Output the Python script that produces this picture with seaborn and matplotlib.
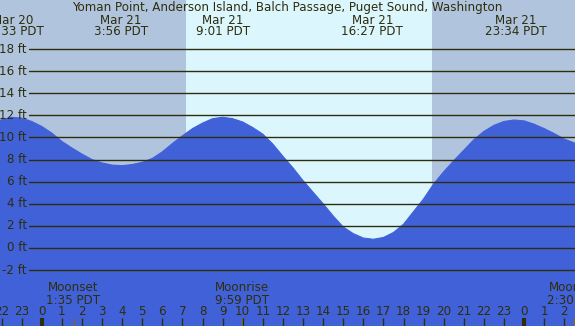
import numpy as np
import pandas as pd
import matplotlib
matplotlib.use("Agg")
import matplotlib.pyplot as plt
import matplotlib.transforms as mtransforms
import seaborn as sns

# -----------------------------
# Data (hours since Mar 21 00:00 PDT, height in ft)
# -----------------------------
hours = [-2.5, -2.0, -1.5, -1.0, -0.5, 0.0, 0.5, 1.0, 1.5, 2.0, 2.5, 3.0,
         3.5, 4.0, 4.5, 5.0, 5.5, 6.0, 6.5, 7.0, 7.5, 8.0, 8.5, 9.0,
         9.5, 10.0, 10.5, 11.0, 11.5, 12.0, 12.5, 13.0, 13.5, 14.0, 14.5, 15.0,
         15.5, 16.0, 16.5, 17.0, 17.5, 18.0, 18.5, 19.0, 19.5, 20.0, 20.5, 21.0,
         21.5, 22.0, 22.5, 23.0, 23.5, 24.0, 24.5, 25.0, 25.5, 26.0, 26.5, 27.0]
height = [11.2, 11.6, 11.83, 11.75, 11.45, 11.0, 10.4, 9.65, 9.05, 8.5, 8.0, 7.7,
          7.5, 7.45, 7.55, 7.75, 8.1, 8.7, 9.45, 10.15, 10.8, 11.3, 11.7, 11.83,
          11.7, 11.4, 10.9, 10.3, 9.4, 8.3, 7.25, 6.1, 5.05, 4.0, 2.9, 1.9,
          1.3, 0.9, 0.79, 0.95, 1.4, 2.15, 3.3, 4.45, 5.8, 6.9, 7.9, 8.85,
          9.8, 10.55, 11.1, 11.45, 11.58, 11.5, 11.2, 10.8, 10.35, 9.85, 9.5, 9.0]

# high / low tide labels
extreme_hours = [-1.45, 3.933, 9.017, 16.45, 23.567]
extreme_dates = ["Mar 20", "Mar 21", "Mar 21", "Mar 21", "Mar 21"]
extreme_times = ["22:33 PDT", "3:56 PDT", "9:01 PDT", "16:27 PDT", "23:34 PDT"]

# moon events
moon_hours = [1.583, 9.983, 26.5]
moon_names = ["Moonset", "Moonrise", "Moonset"]
moon_times = ["1:35 PDT", "9:59 PDT", "2:30 PDT"]

# daylight
sunrise = 7.18
sunset = 19.42

ft_levels = [-2, 0, 2, 4, 6, 8, 10, 12, 14, 16, 18]
hour_ticks = [-2, -1, 0, 1, 2, 3, 4, 5, 6, 7, 8, 9, 10, 11, 12, 13, 14, 15,
              16, 17, 18, 19, 20, 21, 22, 23, 24, 25, 26]
hour_labels = ["22", "23", "0", "1", "2", "3", "4", "5", "6", "7", "8", "9",
               "10", "11", "12", "13", "14", "15", "16", "17", "18", "19",
               "20", "21", "22", "23", "0", "1", "2"]

title = "Yoman Point, Anderson Island, Balch Passage, Puget Sound, Washington"

df = pd.DataFrame({"hour": hours, "ft": height})

# -----------------------------
# Style
# -----------------------------
sns.set_style("white")
plt.rcParams["font.family"] = ["DejaVu Sans"]

night = "#b0c4de"
day = "#dcf6fe"
water = "#4161d8"
ink = "#2e2e0c"
fs = 8.6

W, H = 575, 326
fig = plt.figure(figsize=(W / 100, H / 100), dpi=100)
ax = fig.add_axes([0, 0, 1, 1])
ax.set_xlim(-2.075, 26.53)
ax.set_ylim(-7.06, 22.44)

# background
ax.axvspan(-5, 30, color=night, lw=0, zorder=0)
ax.axvspan(sunrise, sunset, color=day, lw=0, zorder=0)

# tide
ax.fill_between(df["hour"], -10, df["ft"], color=water, lw=0, zorder=1)
sns.lineplot(data=df, x="hour", y="ft", color=water, lw=0.8, ax=ax, zorder=1)
ax.axis("off")

# horizontal ft lines + labels
yblend = mtransforms.blended_transform_factory(ax.transAxes, ax.transData)
for lv in ft_levels:
    ax.axhline(lv, xmin=29 / W, xmax=1, color=ink, lw=1.0, zorder=2)
    ax.text(27 / W, lv, f"{lv} ft", transform=yblend, ha="right", va="center",
            fontsize=fs, color=ink, zorder=3)

xblend = mtransforms.blended_transform_factory(ax.transData, ax.transAxes)

# title
ax.text(0.5, 1 - 7.5 / H, title, transform=ax.transAxes, ha="center",
        va="center", fontsize=fs, color=ink, zorder=3)

# extremes
for h, d, t in zip(extreme_hours, extreme_dates, extreme_times):
    ax.text(h, 1 - 20 / H, d, transform=xblend, ha="center", va="center",
            fontsize=fs, color=ink, zorder=3)
    ax.text(h, 1 - 31.7 / H, t, transform=xblend, ha="center", va="center",
            fontsize=fs, color=ink, zorder=3)

# moon
for h, n, t in zip(moon_hours, moon_names, moon_times):
    ax.text(h, 1 - 287.7 / H, n, transform=xblend, ha="center", va="center",
            fontsize=fs, color=ink, zorder=3)
    ax.text(h, 1 - 300 / H, t, transform=xblend, ha="center", va="center",
            fontsize=fs, color=ink, zorder=3)
    ax.vlines(h, 0, 8 / H, transform=xblend, color="#7a6a30", lw=1.0, zorder=3)

# hour ticks
for h, lab in zip(hour_ticks, hour_labels):
    ax.text(h, 1 - 311.7 / H, lab, transform=xblend, ha="center", va="center",
            fontsize=fs, color=ink, zorder=3)
    lw = 3.0 if lab == "0" else 1.0
    ax.vlines(h, 0, 8 / H, transform=xblend, color=ink, lw=lw, zorder=3)

fig.savefig("out.png", dpi=100)
